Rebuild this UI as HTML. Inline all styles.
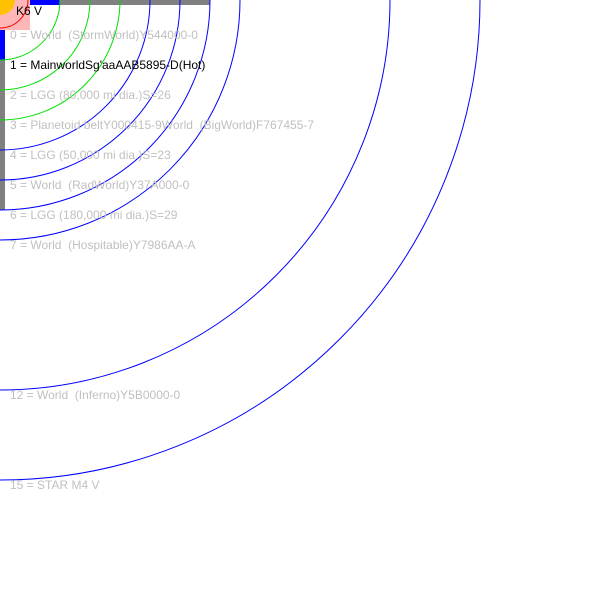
<!DOCTYPE html>
<html><head><meta charset="utf-8"><style>
body{margin:0;background:#fff;}
svg{display:block;font-family:"Liberation Sans",Arial,sans-serif;}
text{white-space:pre;}
</style></head><body>
<svg id="c" width="600" height="600"></svg>
<script>
const orbitRadii=[28,60,90,120,150,180,210,240,390,480];
const orbitColors=['red','#00e000','#00e000','#00e000','blue','blue','blue','blue','blue','blue'];
const labelSlots=[0,1,2,3,4,5,6,7,12,15];
const labelTexts=['0 = World  (StormWorld)Y544000-0','1 = MainworldSg\'aaAAB5895-D(Hot)','2 = LGG (80,000 mi dia.)S=26','3 = Planetoid beltY000415-9World  (BigWorld)F767455-7','4 = LGG (50,000 mi dia.)S=23','5 = World  (RadWorld)Y37A000-0','6 = LGG (180,000 mi dia.)S=29','7 = World  (Hospitable)Y7986AA-A','12 = World  (Inferno)Y5B0000-0','15 = STAR M4 V'];
const highlighted=[1];
const svg=document.getElementById('c');
const NS='http://www.w3.org/2000/svg';
function mk(t,a){const e=document.createElementNS(NS,t);for(const k in a)e.setAttribute(k,a[k]);svg.appendChild(e);return e;}
function ly(slot){return 35+30*slot;}
let e;
e=mk('rect',{x:0,y:0,width:210,height:5,fill:'#808080'});


e=mk('rect',{x:0,y:0,width:5,height:210,fill:'#808080'});


e=mk('rect',{x:30,y:0,width:30,height:5,fill:'blue'});


e=mk('rect',{x:0,y:30,width:5,height:30,fill:'blue'});


e=mk('rect',{x:0,y:0,width:30,height:30,fill:'#ffb6b6'});


e=mk('path',{d:'M0 0 L15 0 A15 15 0 0 1 0 15 Z',fill:'#ffc000'});


orbitRadii.forEach((r,i)=>{
  const p=mk('path',{d:`M${r} 0 A${r} ${r} 0 0 1 0 ${r}`,fill:'none',stroke:orbitColors[i],'stroke-width':1});
  
  
});
e=mk('text',{x:16,y:15,'font-size':12,fill:'#000'});
e.textContent='K6 V';


labelSlots.forEach((s,i)=>{
  const t=mk('text',{x:10,y:ly(s)+4,'font-size':12,fill:highlighted.includes(s)?'#000':'#c0c0c0'});
  t.textContent=labelTexts[i];
  
  
});
</script>
</body></html>
